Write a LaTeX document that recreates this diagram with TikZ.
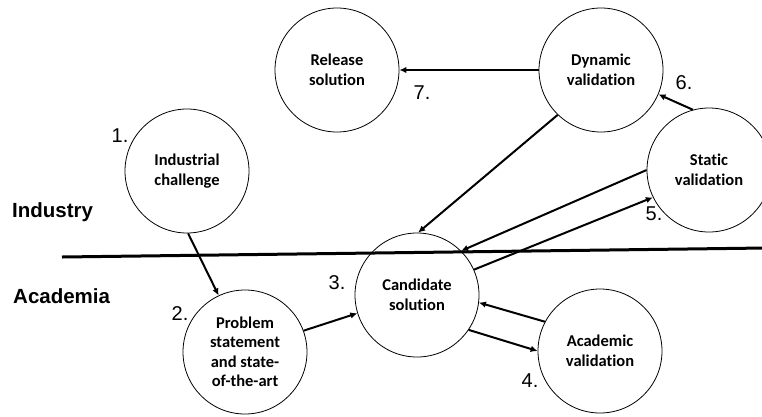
\documentclass[tikz,border=0pt]{standalone}
\usepackage{fontspec}
\setmainfont{Liberation Sans}
\newfontfamily\calib[Ligatures=NoCommon]{Carlito}
\usetikzlibrary{arrows.meta}
\tikzset{
  stage/.style={circle, draw, line width=0.8pt, minimum size=124pt, inner sep=0pt,
    align=center, font=\calib\bfseries\fontsize{16.5}{19.5}\selectfont},
  flow/.style={line width=2pt, -{Latex[length=7pt,width=6.5pt]}},
  num/.style={font=\fontsize{20}{22}\selectfont, inner sep=0pt},
  side/.style={font=\bfseries\fontsize{20.5}{23}\selectfont, inner sep=0pt, anchor=base west},
  divider/.style={line width=3pt}
}
\begin{document}
\begin{tikzpicture}[x=1pt,y=-1pt]
\useasboundingbox (0,0) rectangle (762,416);
% divider
\coordinate (dl) at (62,257);
\coordinate (dr) at (765,248);
\draw[divider] (dl) -- (dr);
% stages
\node[stage] (ind) at (187,171) {Industrial\\challenge};
\node[stage] (prob) at (245,352) {Problem\\statement\\and state-\\of-the-art};
\node[stage] (cand) at (417,295) {Candidate\\solution};
\node[stage] (acad) at (600,351) {Academic\\validation};
\node[stage] (stat) at (709,170) {Static\\validation};
\node[stage] (dyn) at (601,70) {Dynamic\\validation};
\node[stage] (rel) at (337,70) {Release\\solution};
% side labels
\node[side] (lind) at (12,217) {Industry};
\node[side] (lacad) at (13,303) {Academia};
% numbers
\node[num] (n1) at (120,136) {1.};
\node[num] (n2) at (180,314) {2.};
\node[num] (n3) at (337,283) {3.};
\node[num] (n4) at (530,381) {4.};
\node[num] (n5) at (654,214) {5.};
\node[num] (n6) at (684,83) {6.};
\node[num] (n7) at (422,93) {7.};
% flows
\draw[flow] (ind.-89) -- (prob.115);
\draw[flow] (prob.20) -- (cand.197);
\draw[flow] (cand.-34) -- (acad.180);
\draw[flow] (acad.152) -- (cand.-7);
\draw[flow] (cand.24) -- (stat.206);
\draw[flow] (stat.180) -- (cand.45);
\draw[flow] (dyn.226) -- (cand.89);
\draw[flow] (stat.105) -- (dyn.-23);
\draw[flow] (dyn.180) -- (rel.0);
\end{tikzpicture}
\end{document}
